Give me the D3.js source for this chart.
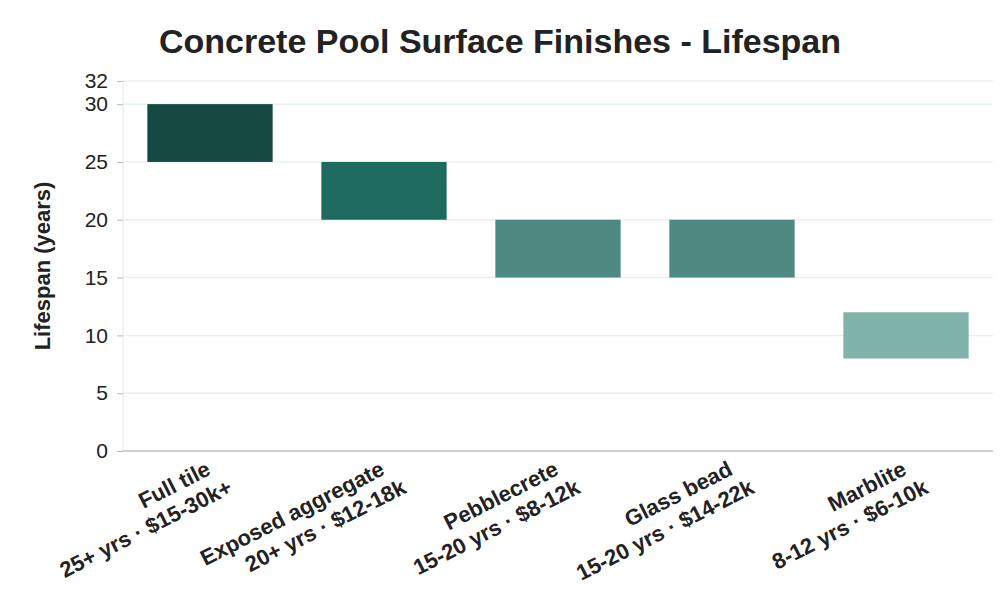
<!DOCTYPE html><html><head><meta charset="utf-8"><script src="https://cdn.jsdelivr.net/npm/d3@7"></script>
<style>body{margin:0;background:#fff}text{font-family:"Liberation Sans",Arial,sans-serif}</style></head><body><svg id="c" width="1000" height="600"></svg>
<script>
const categories=["Full tile","Exposed aggregate","Pebblecrete","Glass bead","Marblite"];
const subLabels=["25+ yrs · $15-30k+","20+ yrs · $12-18k","15-20 yrs · $8-12k","15-20 yrs · $14-22k","8-12 yrs · $6-10k"];
const lowValues=[25,20,15,15,8];
const highValues=[30,25,20,20,12];
const colors=["#154a42","#1e6a5f","#4f8a82","#4f8a82","#80b3aa"];
const yTicks=[0,5,10,15,20,25,30,32];
const svg=d3.select("#c");
const L=123,R=993,T=81,B=451;
const x=d3.scaleBand().domain(categories).range([L,R]).paddingInner(0.28).paddingOuter(0.14);
const y=d3.scaleLinear().domain([0,32]).range([B,T]);
svg.append("g").selectAll("line").data(yTicks).join("line").attr("x1",L).attr("x2",R).attr("y1",d=>y(d)).attr("y2",d=>y(d)).attr("stroke","#e6f2ef").attr("stroke-width",1.5);
svg.append("line").attr("x1",L).attr("x2",L).attr("y1",T).attr("y2",B).attr("stroke","#e6f2ef").attr("stroke-width",1.5);
svg.append("g").selectAll("rect").data(categories).join("rect").attr("x",d=>x(d)).attr("width",x.bandwidth()).attr("y",(d,i)=>y(highValues[i])).attr("height",(d,i)=>y(lowValues[i])-y(highValues[i])).attr("fill",(d,i)=>colors[i]);
const ya=svg.append("g").attr("transform",`translate(${L-6},0)`).call(d3.axisLeft(y).tickValues(yTicks).tickSize(6).tickPadding(3));
ya.select(".domain").remove();
ya.selectAll("line").attr("stroke","#bbb");
ya.selectAll("text").attr("font-size",21).attr("fill","#222");
ya.selectAll(".tick line").attr("transform","translate(6,0)").attr("x2",-6);
svg.append("line").attr("x1",L).attr("x2",R).attr("y1",B).attr("y2",B).attr("stroke","#c4c4c4").attr("stroke-width",1.5);
const xl=svg.append("g").selectAll("g").data(categories).join("g").attr("transform",d=>`translate(${x(d)+x.bandwidth()/2+2},474) rotate(-27)`);
xl.append("text").attr("text-anchor","end").attr("font-size",22).attr("font-weight","bold").attr("fill","#222").text(d=>d);
xl.append("text").attr("text-anchor","end").attr("font-size",22).attr("font-weight","bold").attr("fill","#222").attr("x",11).attr("y",26).text((d,i)=>subLabels[i]);
svg.append("text").attr("x",500).attr("y",53).attr("text-anchor","middle").attr("font-size",34).attr("font-weight","bold").attr("fill","#222").text("Concrete Pool Surface Finishes - Lifespan");
svg.append("text").attr("transform",`translate(50,${(T+B)/2}) rotate(-90)`).attr("text-anchor","middle").attr("font-size",22).attr("font-weight","bold").attr("fill","#222").text("Lifespan (years)");
</script></body></html>
